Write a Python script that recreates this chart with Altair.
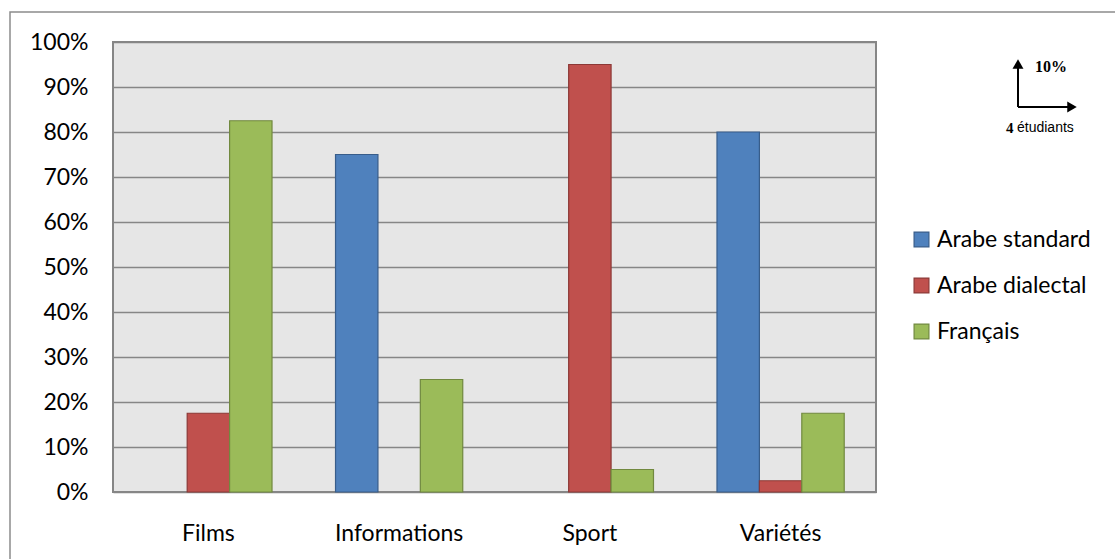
import altair as alt
import pandas as pd

# Chart values (share of students per programme type and language)
categories = ["Films", "Informations", "Sport", "Variétés"]
series = ["Arabe standard", "Arabe dialectal", "Français"]
arabe_standard = [0.0, 0.75, 0.0, 0.80]
arabe_dialectal = [0.175, 0.0, 0.95, 0.025]
francais = [0.825, 0.25, 0.05, 0.175]

fills = ["#4F81BD", "#C0504D", "#9BBB59"]
strokes = ["#385D8A", "#8C3836", "#71893F"]

rows = []
for name, vals in zip(series, [arabe_standard, arabe_dialectal, francais]):
    for cat, v in zip(categories, vals):
        rows.append({"categorie": cat, "langue": name, "part": v})
df = pd.DataFrame(rows)

W, H = 763, 450
FONT = "Lato"

legend = alt.Legend(
    title=None, orient="none", legendX=797, legendY=186,
    symbolType="square", symbolSize=220, symbolStrokeWidth=1.2,
    labelFont=FONT, labelFontSize=23, labelColor="#000000",
    rowPadding=22, labelOffset=4,
)

bars = (
    alt.Chart(df)
    .transform_filter("datum.part > 0")
    .mark_bar(strokeWidth=1.2)
    .encode(
        x=alt.X(
            "categorie:N",
            sort=categories,
            title=None,
            scale=alt.Scale(paddingInner=0.333, paddingOuter=0.1667),
            axis=alt.Axis(
                labelAngle=0, labelFontSize=23, labelFont=FONT, labelColor="#000000",
                ticks=False, domain=False, grid=False, labelPadding=30,
            ),
        ),
        xOffset=alt.XOffset("langue:N", sort=series, scale=alt.Scale(domain=series, paddingInner=0, paddingOuter=0)),
        y=alt.Y(
            "part:Q",
            title=None,
            scale=alt.Scale(domain=[0, 1], nice=False),
            axis=alt.Axis(
                format=".0%", values=[i / 10 for i in range(11)],
                labelFontSize=23, labelFont=FONT, labelColor="#000000",
                ticks=False, domain=False, labelPadding=25,
                gridColor="#868686", gridWidth=1.6,
            ),
        ),
        color=alt.Color("langue:N", sort=series, scale=alt.Scale(domain=series, range=fills), legend=legend),
        stroke=alt.Stroke("langue:N", sort=series, scale=alt.Scale(domain=series, range=strokes), legend=legend),
    )
)

one = pd.DataFrame({"k": [0]})
base = alt.Chart(one)

# Scale key drawn at the top right: vertical and horizontal arrows
v_line = base.mark_rule(color="#000000", strokeWidth=2).encode(
    x=alt.value(905), y=alt.value(22), y2=alt.value(65)
)
h_line = base.mark_rule(color="#000000", strokeWidth=2).encode(
    x=alt.value(905), x2=alt.value(958), y=alt.value(65)
)
v_head = base.mark_point(shape="triangle-up", filled=True, color="#000000", size=120, opacity=1).encode(
    x=alt.value(905), y=alt.value(22)
)
h_head = base.mark_point(shape="triangle-right", filled=True, color="#000000", size=120, opacity=1).encode(
    x=alt.value(959), y=alt.value(65)
)
t_pct = base.mark_text(
    text="10%", font="Liberation Serif", fontWeight="bold", fontSize=16, align="left", baseline="middle"
).encode(x=alt.value(922), y=alt.value(25))
t_four = base.mark_text(
    text="4", font="Liberation Serif", fontWeight="bold", fontSize=15, align="left", baseline="middle"
).encode(x=alt.value(893), y=alt.value(86))
t_etu = base.mark_text(
    text="étudiants", font="Liberation Sans", fontSize=14, align="left", baseline="middle"
).encode(x=alt.value(904), y=alt.value(86))

# Outer frame of the figure
frame = base.mark_rect(filled=False, stroke="#8C8C8C", strokeWidth=1.5).encode(
    x=alt.value(-103), x2=alt.value(1100), y=alt.value(-30), y2=alt.value(600)
)

chart = (
    alt.layer(frame, bars, v_line, h_line, v_head, h_head, t_pct, t_four, t_etu)
    .properties(
        width=W,
        height=H,
        autosize=alt.AutoSizeParams(type="none"),
        padding={"left": 113, "top": 42, "right": 1115 - 113 - W, "bottom": 559 - 42 - H},
        background="#FFFFFF",
    )
    .configure_view(fill="#E6E6E6", stroke="#868686", strokeWidth=2)
)

chart.save("out.html", embed_options={"renderer": "svg", "actions": False})
